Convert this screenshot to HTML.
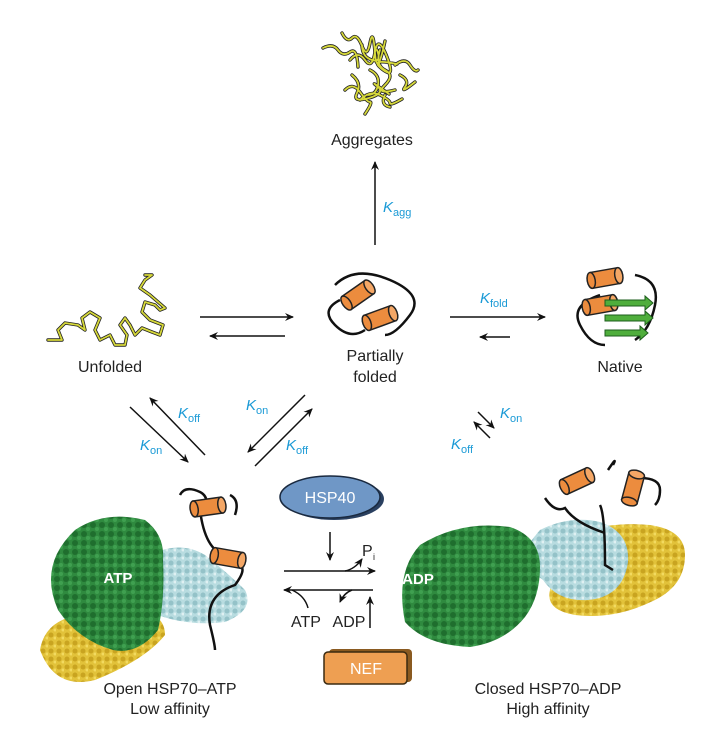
<!DOCTYPE html>
<html><head><meta charset="utf-8"><style>
html,body{margin:0;padding:0;background:#fff}
svg{display:block}
text{font-family:"Liberation Sans",sans-serif;font-size:16px;fill:#222}
.k{fill:#1a9ad6;font-style:italic;font-size:15px}
.ks{fill:#1a9ad6;font-size:11px}
</style></head><body>
<svg width="702" height="742" viewBox="0 0 702 742" xmlns="http://www.w3.org/2000/svg">
<defs>
<marker id="a" markerWidth="10" markerHeight="10" refX="8" refY="5" orient="auto" markerUnits="userSpaceOnUse"><path d="M0,1 L9,5 L0,9 L3,5 Z" fill="#111"/></marker>
<pattern id="gp" width="9" height="9" patternUnits="userSpaceOnUse"><rect width="9" height="9" fill="#2f8a3f"/><circle cx="3" cy="3" r="3" fill="#1f6e2e"/><circle cx="7" cy="7" r="2" fill="#3fa050"/></pattern>
<pattern id="bp" width="8" height="8" patternUnits="userSpaceOnUse"><rect width="8" height="8" fill="#b8dce0"/><circle cx="3" cy="3" r="2.5" fill="#94c2c8"/><circle cx="7" cy="6" r="1.5" fill="#dff0f2"/></pattern>
<pattern id="yp" width="8" height="8" patternUnits="userSpaceOnUse"><rect width="8" height="8" fill="#e2c23a"/><circle cx="3" cy="3" r="2.5" fill="#c9a420"/><circle cx="7" cy="6" r="1.5" fill="#f2da60"/></pattern>
<g id="cyl"><rect x="-14" y="-8" width="28" height="16" fill="#ec8c3e" stroke="#222" stroke-width="1.5"/><ellipse cx="-14" cy="0" rx="4" ry="8" fill="#ec8c3e" stroke="#222" stroke-width="1.5"/><ellipse cx="14" cy="0" rx="4" ry="8" fill="#f4a766" stroke="#222" stroke-width="1.5"/></g>
<path id="agg" d="M323,48 q10,-5 15,2 t12,2 t8,15 M342,33 q5,10 10,5 t10,8 t8,-3 t5,10 t10,-12 M350,60 q8,-10 15,0 t10,-8 t12,5 t-5,12 t15,-5 M352,75 q10,8 5,18 t12,5 t8,-12 t12,8 M345,90 q8,-8 15,2 t10,10 t-5,12 M360,100 q10,-10 20,-5 t10,8 t12,-4 M380,50 q-5,15 5,20 t0,15 t10,5 M395,65 q10,-8 15,0 t8,5 M400,75 q10,5 5,12 t10,-5 M370,70 q10,5 8,15 t-10,10 M362,45 q0,12 10,15 t5,-10 M385,95 q-5,10 5,12"/>
<polyline id="unf" points="48,340 62,340 58,330 65,323 78,325 85,330 82,318 90,312 100,318 95,330 100,340 110,335 115,345 125,345 127,335 120,325 125,318 130,325 135,335 142,328 152,332 160,335 163,325 150,320 142,312 145,302 155,305 160,310 165,308 150,295 140,288 145,280 152,275 145,275"/>
</defs>

<!-- Aggregates -->
<use href="#agg" fill="none" stroke="#222" stroke-width="3.4" stroke-linecap="round"/>
<use href="#agg" fill="none" stroke="#d6d83a" stroke-width="1.8" stroke-linecap="round"/>
<text x="372" y="145" text-anchor="middle">Aggregates</text>
<line x1="375" y1="245" x2="375" y2="162" stroke="#111" stroke-width="1.5" marker-end="url(#a)"/>
<text x="383" y="212" class="k">K</text><text x="393" y="216" class="ks">agg</text>

<!-- Unfolded -->
<use href="#unf" fill="none" stroke="#222" stroke-width="3.4" stroke-linejoin="round" stroke-linecap="round"/>
<use href="#unf" fill="none" stroke="#d6d83a" stroke-width="1.8" stroke-linejoin="round" stroke-linecap="round"/>
<text x="110" y="372" text-anchor="middle">Unfolded</text>
<line x1="200" y1="317" x2="293" y2="317" stroke="#111" stroke-width="1.5" marker-end="url(#a)"/>
<line x1="285" y1="336" x2="210" y2="336" stroke="#111" stroke-width="1.5" marker-end="url(#a)"/>

<!-- Partially folded -->
<path d="M340,300 q-20,10 -5,25 t30,5 M335,285 q20,-20 55,-5 t20,35 t-25,20" fill="none" stroke="#111" stroke-width="2.5"/>
<use href="#cyl" transform="translate(358,295) rotate(-35)"/>
<use href="#cyl" transform="translate(380,318) rotate(-20)"/>
<text x="375" y="361" text-anchor="middle">Partially</text>
<text x="375" y="382" text-anchor="middle">folded</text>

<line x1="450" y1="317" x2="545" y2="317" stroke="#111" stroke-width="1.5" marker-end="url(#a)"/>
<line x1="510" y1="337" x2="480" y2="337" stroke="#111" stroke-width="1.5" marker-end="url(#a)"/>
<text x="480" y="303" class="k">K</text><text x="490" y="307" class="ks">fold</text>

<!-- Native -->
<path d="M600,295 q-30,10 -20,30 t25,20 M635,275 q25,5 20,30 t-20,35" fill="none" stroke="#111" stroke-width="2.5"/>
<use href="#cyl" transform="translate(605,278) rotate(-10)"/>
<use href="#cyl" transform="translate(600,305) rotate(-10)"/>
<g fill="#4fae3c" stroke="#1d5e1d" stroke-width="1"><path d="M605,300 h40 v-4 l8,7 l-8,7 v-4 h-40z"/><path d="M605,315 h40 v-4 l8,7 l-8,7 v-4 h-40z"/><path d="M605,330 h35 v-4 l8,7 l-8,7 v-4 h-35z"/></g>
<text x="620" y="372" text-anchor="middle">Native</text>

<!-- Diagonal arrows -->
<line x1="205" y1="455" x2="150" y2="398" stroke="#111" stroke-width="1.5" marker-end="url(#a)"/>
<line x1="130" y1="407" x2="188" y2="462" stroke="#111" stroke-width="1.5" marker-end="url(#a)"/>
<text x="178" y="418" class="k">K</text><text x="188" y="422" class="ks">off</text>
<text x="140" y="450" class="k">K</text><text x="150" y="454" class="ks">on</text>
<line x1="305" y1="395" x2="248" y2="452" stroke="#111" stroke-width="1.5" marker-end="url(#a)"/>
<line x1="255" y1="466" x2="312" y2="409" stroke="#111" stroke-width="1.5" marker-end="url(#a)"/>
<text x="246" y="410" class="k">K</text><text x="256" y="414" class="ks">on</text>
<text x="286" y="450" class="k">K</text><text x="296" y="454" class="ks">off</text>
<line x1="478" y1="412" x2="494" y2="428" stroke="#111" stroke-width="1.5" marker-end="url(#a)"/>
<line x1="490" y1="438" x2="474" y2="422" stroke="#111" stroke-width="1.5" marker-end="url(#a)"/>
<text x="500" y="418" class="k">K</text><text x="510" y="422" class="ks">on</text>
<text x="451" y="449" class="k">K</text><text x="461" y="453" class="ks">off</text>

<!-- Left HSP70 -->
<path d="M40,650 q5,-30 40,-35 q40,-10 60,-5 q25,5 25,25 q-20,25 -70,45 q-40,10 -55,-30z" fill="url(#yp)"/>
<path d="M150,555 q30,-15 55,0 q25,20 40,35 q10,20 -20,32 q-40,5 -75,-10z" fill="url(#bp)"/>
<path d="M75,530 q30,-20 70,-10 q20,15 18,40 q2,40 -5,70 q-20,25 -45,20 q-35,-10 -55,-40 q-20,-45 17,-80z" fill="url(#gp)"/>
<text x="118" y="583" text-anchor="middle" style="fill:#fff;font-weight:bold;font-size:15px">ATP</text>
<path d="M180,495 q5,-10 20,-3 q10,5 5,20 M230,495 q10,5 5,20 M200,510 q5,40 25,45 M235,565 q15,0 0,20 q-30,10 -25,40 q5,20 5,25" fill="none" stroke="#111" stroke-width="2.5"/>
<use href="#cyl" transform="translate(208,507) rotate(-8)"/>
<use href="#cyl" transform="translate(228,558) rotate(10)"/>
<text x="170" y="694" text-anchor="middle">Open HSP70–ATP</text>
<text x="170" y="714" text-anchor="middle">Low affinity</text>

<!-- Center -->
<ellipse cx="334" cy="499" rx="50" ry="21" fill="#2a4060"/>
<ellipse cx="330" cy="497" rx="50" ry="21" fill="#6f97c6" stroke="#1a2a40" stroke-width="1.5"/>
<text x="330" y="503" text-anchor="middle" style="fill:#fff;font-size:16px">HSP40</text>
<line x1="330" y1="532" x2="330" y2="560" stroke="#111" stroke-width="1.5" marker-end="url(#a)"/>
<line x1="284" y1="571" x2="375" y2="571" stroke="#111" stroke-width="1.5" marker-end="url(#a)"/>
<path d="M345,571 q10,-2 17,-12" fill="none" stroke="#111" stroke-width="1.5" marker-end="url(#a)"/>
<text x="362" y="556">P</text><text x="373" y="560" style="font-size:9px">i</text>
<line x1="373" y1="590" x2="284" y2="590" stroke="#111" stroke-width="1.5" marker-end="url(#a)"/>
<path d="M308,608 q-3,-12 -16,-18" fill="none" stroke="#111" stroke-width="1.5"/>
<path d="M352,590 q-8,3 -12,12" fill="none" stroke="#111" stroke-width="1.5" marker-end="url(#a)"/>
<text x="306" y="627" text-anchor="middle">ATP</text>
<text x="349" y="627" text-anchor="middle">ADP</text>
<line x1="370" y1="628" x2="370" y2="597" stroke="#111" stroke-width="1.5" marker-end="url(#a)"/>
<rect x="329" y="649" width="83" height="33" rx="4" fill="#8a5a20"/>
<rect x="324" y="652" width="83" height="32" rx="4" fill="#ee9f52" stroke="#3a2a10" stroke-width="1.5"/>
<text x="366" y="674" text-anchor="middle" style="fill:#fff;font-size:16px">NEF</text>

<!-- Right HSP70 -->
<path d="M555,545 q40,-25 95,-20 q35,5 35,30 q0,30 -30,45 q-40,20 -80,15 q-30,-5 -25,-25z" fill="url(#yp)"/>
<path d="M540,530 q30,-15 60,-8 q30,10 28,40 q-5,35 -40,38 q-30,2 -45,-20 q-15,-10 -15,-25 q-8,-2 12,-25z" fill="url(#bp)"/>
<path d="M420,545 q40,-25 90,-18 q30,10 30,40 q0,30 -15,50 q-20,25 -55,30 q-45,-2 -65,-25 q-10,-50 15,-77z" fill="url(#gp)"/>
<text x="418" y="584" text-anchor="middle" style="fill:#fff;font-weight:bold;font-size:15px">ADP</text>
<path d="M545,498 q10,15 20,10 q10,15 40,25 M608,470 q10,-15 5,-5 M600,505 q5,10 5,60 l8,5 M640,478 q20,0 20,12 q0,10 -5,15" fill="none" stroke="#111" stroke-width="2.5"/>
<use href="#cyl" transform="translate(577,481) rotate(-25)"/>
<use href="#cyl" transform="translate(633,488) rotate(-75)"/>
<text x="548" y="694" text-anchor="middle">Closed HSP70–ADP</text>
<text x="548" y="714" text-anchor="middle">High affinity</text>
</svg>
</body></html>
